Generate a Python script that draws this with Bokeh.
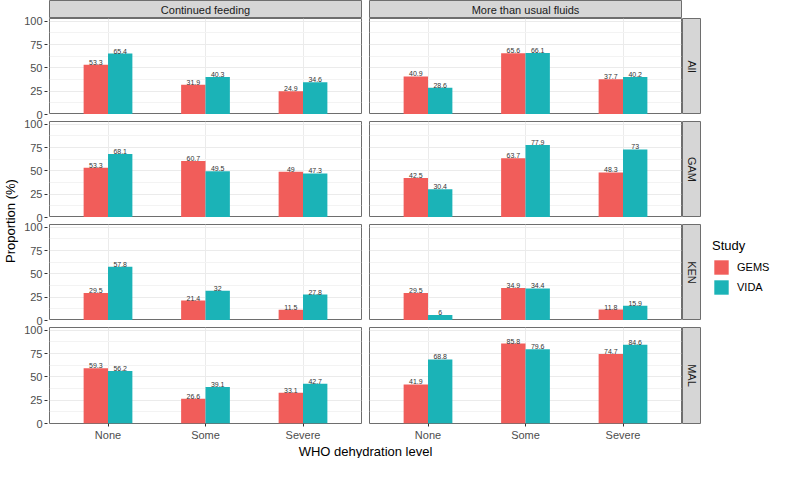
from bokeh.plotting import figure
from bokeh.models import (FactorRange, Range1d, FixedTicker, ColumnDataSource,
                          Label, Legend, LegendItem, Spacer)
from bokeh.transform import dodge
from bokeh.layouts import row, column
from bokeh.embed import file_html
from bokeh.resources import INLINE
from bokeh.core.properties import value

# ---------------- data ----------------
levels = ["None", "Some", "Severe"]
interventions = ["Continued feeding", "More than usual fluids"]
sites = ["All", "GAM", "KEN", "MAL"]
studies = ["GEMS", "VIDA"]
y_ticks = [0, 25, 50, 75, 100]

feed_all_gems = [53.3, 31.9, 24.9]
feed_all_vida = [65.4, 40.3, 34.6]
feed_gam_gems = [53.3, 60.7, 49]
feed_gam_vida = [68.1, 49.5, 47.3]
feed_ken_gems = [29.5, 21.4, 11.5]
feed_ken_vida = [57.8, 32, 27.8]
feed_mal_gems = [59.3, 26.6, 33.1]
feed_mal_vida = [56.2, 39.1, 42.7]

fluid_all_gems = [40.9, 65.6, 37.7]
fluid_all_vida = [28.6, 66.1, 40.2]
fluid_gam_gems = [42.5, 63.7, 48.3]
fluid_gam_vida = [30.4, 77.9, 73]
fluid_ken_gems = [29.5, 34.9, 11.8]
fluid_ken_vida = [6, 34.4, 15.9]
fluid_mal_gems = [41.9, 85.8, 74.7]
fluid_mal_vida = [68.8, 79.6, 84.6]

panel_data = {
    ("Continued feeding", "All"): (feed_all_gems, feed_all_vida),
    ("Continued feeding", "GAM"): (feed_gam_gems, feed_gam_vida),
    ("Continued feeding", "KEN"): (feed_ken_gems, feed_ken_vida),
    ("Continued feeding", "MAL"): (feed_mal_gems, feed_mal_vida),
    ("More than usual fluids", "All"): (fluid_all_gems, fluid_all_vida),
    ("More than usual fluids", "GAM"): (fluid_gam_gems, fluid_gam_vida),
    ("More than usual fluids", "KEN"): (fluid_ken_gems, fluid_ken_vida),
    ("More than usual fluids", "MAL"): (fluid_mal_gems, fluid_mal_vida),
}

# ---------------- style ----------------
FONT = "Liberation Sans"
RED = "#F15D5A"
TEAL = "#1BB3B7"
BORDER = "#6E6E6E"
STRIP_FILL = "#D6D6D6"
GRID = "#EBEBEB"
MINOR = "#F3F3F3"

FW, FH = 312, 96          # panel frame size
GAP = 7
BOTTOM_AX = 18
STRIP = 18
RSTRIP = 19
XT_H = 15
LG_W = 70
LG_LEFT = 11
PANELS_H = FH * 4 + GAP * 3
TOTAL_H = STRIP + PANELS_H + BOTTOM_AX + XT_H

Y_MAX = 103
minor_ticks = [(a + b) / 2 for a, b in zip(y_ticks[:-1], y_ticks[1:])]


def fmt(v):
    return f"{v:g}"


def base(**kw):
    f = figure(toolbar_location=None, tools="", output_backend="svg", **kw)
    f.border_fill_color = "white"
    f.background_fill_color = "white"
    return f


def style_axis(ax):
    ax.axis_line_color = None
    ax.major_tick_line_color = "#333333"
    ax.major_tick_out = 3
    ax.major_tick_in = 0
    ax.minor_tick_out = 0
    ax.minor_tick_in = 0
    ax.major_label_text_font = FONT
    ax.major_label_text_font_size = "11px"
    ax.major_label_text_color = "#4D4D4D"
    ax.major_label_standoff = 2


def make_panel(gems, vida, ci, ri):
    last = ri == len(sites) - 1
    src = ColumnDataSource(dict(level=levels, gems=gems, vida=vida,
                                gems_lbl=[fmt(v) for v in gems],
                                vida_lbl=[fmt(v) for v in vida]))
    p = base(x_range=FactorRange(factors=levels, range_padding=0.1,
                                 range_padding_units="absolute"),
             y_range=Range1d(0, Y_MAX),
             frame_width=FW, frame_height=FH,
             min_border_left=1 if ci == 0 else GAP,
             min_border_right=1,
             min_border_top=0 if ri == 0 else GAP,
             min_border_bottom=BOTTOM_AX if last else 0)
    p.outline_line_color = BORDER
    p.outline_line_width = 1

    xg = dodge("level", -0.125, range=p.x_range)
    xv = dodge("level", 0.125, range=p.x_range)
    p.vbar(x=xg, top="gems", width=0.25, source=src, fill_color=RED, line_color=None)
    p.vbar(x=xv, top="vida", width=0.25, source=src, fill_color=TEAL, line_color=None)
    for xx, col, lbl in ((xg, "gems", "gems_lbl"), (xv, "vida", "vida_lbl")):
        p.text(x=xx, y=col, text=lbl, source=src, text_font=value(FONT),
               text_font_size="7px", text_color="#333333", text_align="center",
               text_baseline="bottom")

    ticker = FixedTicker(ticks=y_ticks, minor_ticks=minor_ticks)
    p.yaxis.ticker = ticker
    p.ygrid.ticker = ticker
    p.ygrid.grid_line_color = GRID
    p.ygrid.minor_grid_line_color = MINOR
    p.xgrid.grid_line_color = GRID
    style_axis(p.xaxis[0])
    p.xaxis.visible = last
    p.yaxis.visible = False
    return p


def top_strip(text, left):
    f = base(x_range=Range1d(0, 1), y_range=Range1d(0, 1),
             x_axis_type=None, y_axis_type=None,
             frame_width=FW, frame_height=STRIP,
             min_border_left=left, min_border_right=1,
             min_border_top=0, min_border_bottom=0)
    f.background_fill_color = STRIP_FILL
    f.outline_line_color = BORDER
    f.add_layout(Label(x=0.5, y=0.5, text=text, text_align="center",
                       text_baseline="middle", text_font=FONT,
                       text_font_size="11px", text_color="#1A1A1A"))
    return f


def right_strip(text, ri):
    last = ri == len(sites) - 1
    f = base(x_range=Range1d(0, 1), y_range=Range1d(0, 1),
             x_axis_type=None, y_axis_type=None,
             frame_width=RSTRIP - 1, frame_height=FH,
             min_border_left=0, min_border_right=1,
             min_border_top=0 if ri == 0 else GAP,
             min_border_bottom=BOTTOM_AX if last else 0)
    f.background_fill_color = STRIP_FILL
    f.outline_line_color = BORDER
    f.add_layout(Label(x=0.5, y=0.5, text=text, text_align="center",
                       text_baseline="middle", angle=-1.5707963,
                       text_font=FONT, text_font_size="11px",
                       text_color="#1A1A1A"))
    return f


# ---------------- panels ----------------
rows = [row(top_strip(interventions[0], 1), top_strip(interventions[1], GAP))]
for ri, s in enumerate(sites):
    figs = [make_panel(*panel_data[(iv, s)], ci, ri) for ci, iv in enumerate(interventions)]
    figs.append(right_strip(s, ri))
    rows.append(row(*figs))

xt = base(x_range=Range1d(0, 1), y_range=Range1d(0, 1),
          x_axis_type=None, y_axis_type=None,
          frame_width=FW * 2 + GAP + 1, frame_height=XT_H,
          min_border_left=1, min_border_right=0,
          min_border_top=0, min_border_bottom=0)
xt.outline_line_color = None
xt.add_layout(Label(x=0.5, y=0.5, text="WHO dehydration level", text_align="center",
                    text_baseline="middle", text_font=FONT, text_font_size="13px",
                    text_color="black"))
rows.append(xt)
grid = column(*rows, spacing=0)

# ---------------- shared left axis column (one tall axis, 4 tick groups) ----------------
tick_pos = []
tick_text = {}
for k in range(len(sites)):
    row_bottom = PANELS_H - (k * (FH + GAP) + FH)
    for v in y_ticks:
        pos = round(row_bottom + v * FH / Y_MAX, 3)
        tick_pos.append(pos)
        tick_text[pos] = str(v)

ax = base(x_range=Range1d(0, 1), y_range=Range1d(0, PANELS_H), x_axis_type=None,
          frame_width=1, frame_height=PANELS_H,
          min_border_left=0, min_border_right=0,
          min_border_top=STRIP, min_border_bottom=BOTTOM_AX + XT_H)
ax.outline_line_color = None
ax.ygrid.visible = False
ax.yaxis.ticker = FixedTicker(ticks=tick_pos)
ax.yaxis.major_label_overrides = tick_text
style_axis(ax.yaxis[0])
ax.yaxis.axis_label = "Proportion (%)"
ax.yaxis.axis_label_text_font = FONT
ax.yaxis.axis_label_text_font_size = "13px"
ax.yaxis.axis_label_text_font_style = "normal"
ax.yaxis.axis_label_text_color = "black"
ax.yaxis.axis_label_standoff = 3

# ---------------- legend (small figure placed under a spacer) ----------------
LG_TOP = 238
LG_H = 60
lg_src = ColumnDataSource(dict(level=levels, gems=feed_all_gems, vida=feed_all_vida))
lg = base(x_range=FactorRange(factors=levels), y_range=Range1d(0, Y_MAX),
          x_axis_type=None, y_axis_type=None,
          frame_width=LG_W - LG_LEFT, frame_height=LG_H,
          min_border_left=LG_LEFT, min_border_right=0,
          min_border_top=0, min_border_bottom=0)
lg.outline_line_color = None
lg.xgrid.visible = False
lg.ygrid.visible = False
items = []
for st, col, colr in zip(studies, ("gems", "vida"), (RED, TEAL)):
    r = lg.vbar(x="level", top=col, bottom=col, width=0.25, source=lg_src,
                fill_color=colr, line_color=None)
    items.append(LegendItem(label=st, renderers=[r]))
legend = Legend(items=items, location="top_left", title="Study",
                title_text_font=FONT, title_text_font_size="13px",
                title_text_font_style="normal", title_text_color="black",
                title_standoff=5,
                label_text_font=FONT, label_text_font_size="11px",
                label_text_color="black", label_standoff=7,
                glyph_width=18, glyph_height=18, spacing=2,
                padding=0, margin=0, border_line_color=None,
                background_fill_alpha=0)
lg.add_layout(legend)
lg_col = column(Spacer(width=LG_W, height=LG_TOP), lg, spacing=0)

page = row(column(ax, spacing=0), grid, lg_col, spacing=0)

open("out.html", "w").write(file_html(page, INLINE))
